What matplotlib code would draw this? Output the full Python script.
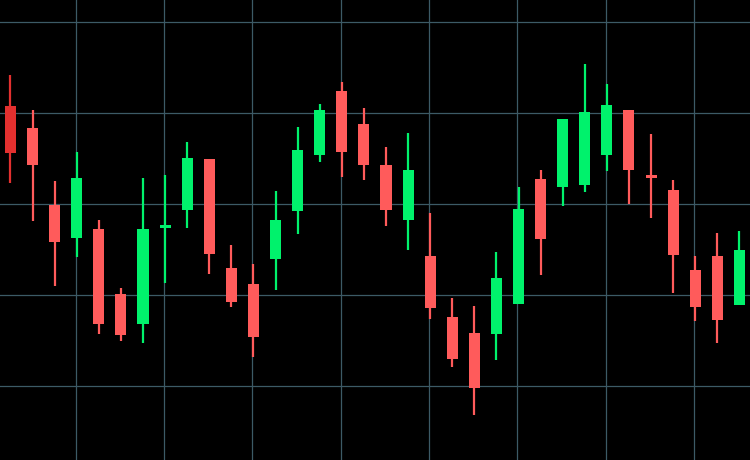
import matplotlib
matplotlib.use("Agg")
import matplotlib.pyplot as plt
import numpy as np

# OHLC data (arbitrary price units)
opens = [130.77, 128.35, 119.89, 116.26, 117.20, 110.05, 106.81, 117.31, 119.34, 124.89,
         112.91, 111.21, 113.90, 119.18, 125.38, 132.42, 128.79, 124.29, 118.19, 114.23,
         107.53, 105.77, 105.71, 109.01, 122.69, 121.81, 122.03, 125.33, 130.27, 123.19,
         121.48, 112.75, 114.23, 108.85]
highs = [134.18, 130.33, 122.53, 125.71, 118.24, 110.71, 122.86, 123.19, 126.76, 124.89,
         115.49, 113.41, 121.37, 128.41, 130.99, 133.35, 130.49, 126.26, 127.75, 118.96,
         109.62, 108.79, 114.67, 121.81, 123.68, 129.29, 135.38, 133.13, 130.27, 127.64,
         122.64, 114.29, 116.76, 117.03]
lows = [122.31, 118.13, 110.99, 114.18, 105.71, 104.89, 104.73, 111.32, 117.36, 112.31,
        108.63, 103.13, 110.55, 116.65, 124.56, 122.97, 122.64, 117.53, 114.89, 107.31,
        102.03, 96.76, 102.86, 109.01, 112.20, 119.78, 121.26, 123.57, 119.95, 118.41,
        110.16, 107.09, 104.67, 108.85]
closes = [125.60, 124.29, 115.77, 122.86, 106.81, 105.55, 117.25, 117.69, 125.00, 114.51,
          109.18, 105.33, 118.24, 125.88, 130.33, 125.66, 124.29, 119.34, 123.74, 108.52,
          102.91, 99.73, 111.81, 119.40, 116.15, 129.29, 130.11, 130.82, 123.74, 122.86,
          114.40, 108.63, 107.25, 114.95]

up_color = "#00f26c"
down_color = "#ff5b5b"
first_color = "#e3302f"

x = np.arange(len(opens))
o = np.array(opens); h = np.array(highs); l = np.array(lows); c = np.array(closes)
colors = [up_color if cc >= oo else down_color for oo, cc in zip(o, c)]
colors[0] = first_color

fig = plt.figure(figsize=(7.5, 4.605), dpi=100, facecolor="black")
ax = fig.add_axes([0, 0, 1, 1])
ax.set_facecolor("black")

# grid
for gx in range(3, len(opens), 4):
    ax.axvline(gx - 0.05, color="#3c5a66", linewidth=0.9, zorder=0)
for gy in [100, 110, 120, 130, 140]:
    ax.axhline(gy, color="#3c5a66", linewidth=0.9, zorder=0)

ax.vlines(x, l, h, colors=colors, linewidth=1.6, zorder=2)
bottoms = np.minimum(o, c)
heights = np.maximum(np.abs(c - o), 0.3)
ax.bar(x, heights, bottom=bottoms, width=0.5, color=colors, zorder=3, linewidth=0)

ax.set_xlim(-0.475, 33.48)
ax.set_ylim(91.87, 142.42)
for s in ax.spines.values():
    s.set_visible(False)
ax.set_xticks([]); ax.set_yticks([])

fig.savefig("out.png", dpi=100, facecolor="black")
